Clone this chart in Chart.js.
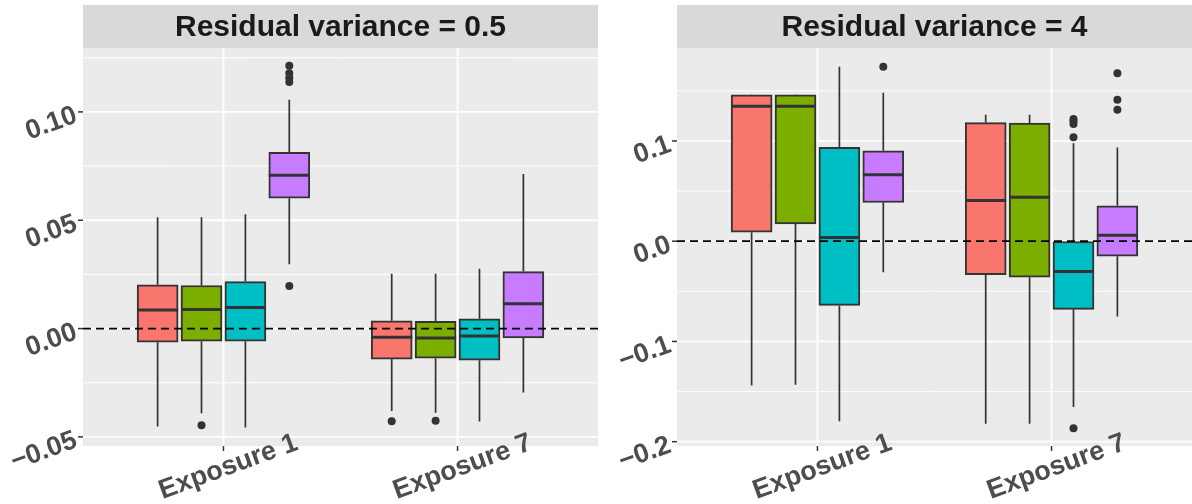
<!DOCTYPE html>
<html><head><meta charset="utf-8">
<script src="https://cdn.jsdelivr.net/npm/chart.js@4.4.1/dist/chart.umd.min.js"></script>
<style>
html,body{margin:0;padding:0;background:#fff;width:1192px;height:504px;overflow:hidden}
canvas{position:absolute;top:0}
#c1{left:0}
#c2{left:600px}
</style></head><body>
<canvas id="c1" width="600" height="504"></canvas>
<canvas id="c2" width="592" height="504"></canvas>
<script>
// ---------- data ----------
const categories = ['Exposure 1', 'Exposure 7'];
const seriesNames = ['Method 1', 'Method 2', 'Method 3', 'Method 4'];
const seriesColors = ['#F8766D', '#7CAE00', '#00BFC4', '#C77CFF'];

// Panel 1: Residual variance = 0.5   (arrays indexed [series][category])
const p1Title = 'Residual variance = 0.5';
const p1Lower  = [[-0.0452, -0.0380], [-0.0391, -0.0388], [-0.0457, -0.0429], [0.0297, -0.0295]];
const p1Q1     = [[-0.0063, -0.0141], [-0.0058, -0.0137], [-0.0058, -0.0146], [0.0602, -0.0043]];
const p1Median = [[0.0086, -0.0040], [0.0088, -0.0044], [0.0097, -0.0034], [0.0708, 0.0114]];
const p1Q3     = [[0.0202, 0.0036], [0.0199, 0.0034], [0.0217, 0.0045], [0.0813, 0.0263]];
const p1Upper  = [[0.0514, 0.0253], [0.0514, 0.0253], [0.0528, 0.0276], [0.1056, 0.0714]];
const p1Outliers = [[[], [-0.0428]], [[-0.0446], [-0.0425]], [[], []], [[0.1213, 0.1178, 0.1158, 0.1138, 0.0197], []]];
const p1Ticks = [-0.05, 0, 0.05, 0.10];
const p1TickLabels = ['\u22120.05', '0.00', '0.05', '0.10'];
const p1MinorTicks = [-0.025, 0.025, 0.075, 0.125];
const p1Range = [-0.0542, 0.1295];

// Panel 2: Residual variance = 4
const p2Title = 'Residual variance = 4';
const p2Lower  = [[-0.1439, -0.1820], [-0.1432, -0.1820], [-0.1795, -0.1655], [-0.0309, -0.0751]];
const p2Q1     = [[0.0090, -0.0335], [0.0173, -0.0359], [-0.0641, -0.0680], [0.0386, -0.0150]];
const p2Median = [[0.1346, 0.0406], [0.1346, 0.0439], [0.0037, -0.0302], [0.0662, 0.0060]];
const p2Q3     = [[0.1460, 0.1183], [0.1460, 0.1177], [0.0937, -0.0003], [0.0901, 0.0353]];
const p2Upper  = [[0.1463, 0.1260], [0.1463, 0.1260], [0.1739, 0.0977], [0.1480, 0.0934]];
const p2Outliers = [[[], []], [[], []], [[], [0.1220, 0.1196, 0.1170, 0.1037, -0.1867]], [[0.1739], [0.1675, 0.1410, 0.1310]]];
const p2Ticks = [-0.2, -0.1, 0, 0.1];
const p2TickLabels = ['\u22120.2', '\u22120.1', '0.0', '0.1'];
const p2MinorTicks = [-0.15, -0.05, 0.05, 0.15];
const p2Range = [-0.2043, 0.1927];

const refLine = 0;

// ---------- helpers ----------
const DODGE = 0.75;
const nSeries = seriesNames.length;
function xPos(catIdx, sIdx) {
  const step = DODGE / nSeries;
  return catIdx + 1 + (sIdx - (nSeries - 1) / 2) * step;
}

const FONT = '"Liberation Sans", Arial, Helvetica, sans-serif';

const boxPlugin = {
  id: 'ggbox',
  beforeDraw(chart) {
    const o = chart.options.plugins.ggbox;
    const ctx = chart.ctx, a = chart.chartArea;
    const ys = chart.scales.y, xs = chart.scales.x;
    ctx.save();
    ctx.fillStyle = '#EBEBEB';
    ctx.fillRect(a.left, a.top, a.right - a.left, a.bottom - a.top);
    ctx.fillStyle = '#D9D9D9';
    ctx.fillRect(a.left, 5, a.right - a.left, a.top - 5);
    ctx.fillStyle = '#1A1A1A';
    ctx.font = 'bold 30px ' + FONT;
    ctx.textAlign = 'center';
    ctx.textBaseline = 'middle';
    ctx.fillText(o.title, (a.left + a.right) / 2, (5 + a.top) / 2 + 1);
    ctx.strokeStyle = '#FFFFFF';
    ctx.lineWidth = 0.9;
    o.minor.forEach(v => {
      const y = ys.getPixelForValue(v);
      if (y < a.top || y > a.bottom) return;
      ctx.beginPath(); ctx.moveTo(a.left, y); ctx.lineTo(a.right, y); ctx.stroke();
    });
    ctx.lineWidth = 1.8;
    o.ticks.forEach(v => {
      const y = ys.getPixelForValue(v);
      ctx.beginPath(); ctx.moveTo(a.left, y); ctx.lineTo(a.right, y); ctx.stroke();
    });
    categories.forEach((c, i) => {
      const x = xs.getPixelForValue(i + 1);
      ctx.beginPath(); ctx.moveTo(x, a.top); ctx.lineTo(x, a.bottom); ctx.stroke();
    });
    ctx.restore();
  },
  beforeDatasetsDraw(chart) {
    const o = chart.options.plugins.ggbox;
    const ctx = chart.ctx, ys = chart.scales.y, xs = chart.scales.x;
    ctx.save();
    ctx.strokeStyle = '#333333';
    ctx.lineWidth = 1.7;
    for (let s = 0; s < nSeries; s++) {
      categories.forEach((c, i) => {
        const x = xs.getPixelForValue(xPos(i, s));
        ctx.beginPath();
        ctx.moveTo(x, ys.getPixelForValue(o.q3[s][i]));
        ctx.lineTo(x, ys.getPixelForValue(o.upper[s][i]));
        ctx.moveTo(x, ys.getPixelForValue(o.q1[s][i]));
        ctx.lineTo(x, ys.getPixelForValue(o.lower[s][i]));
        ctx.stroke();
      });
    }
    ctx.restore();
  },
  afterDatasetsDraw(chart) {
    const o = chart.options.plugins.ggbox;
    const ctx = chart.ctx, ys = chart.scales.y, a = chart.chartArea;
    ctx.save();
    ctx.strokeStyle = '#333333';
    ctx.lineWidth = 3;
    for (let s = 0; s < nSeries; s++) {
      const meta = chart.getDatasetMeta(s);
      meta.data.forEach((el, i) => {
        const p = el.getProps(['x', 'width'], true);
        const y = ys.getPixelForValue(o.median[s][i]);
        ctx.beginPath();
        ctx.moveTo(p.x - p.width / 2, y);
        ctx.lineTo(p.x + p.width / 2, y);
        ctx.stroke();
      });
    }
    ctx.strokeStyle = '#000000';
    ctx.lineWidth = 1.8;
    ctx.setLineDash([8, 5]);
    const y0 = ys.getPixelForValue(refLine);
    ctx.beginPath(); ctx.moveTo(a.left, y0); ctx.lineTo(a.right, y0); ctx.stroke();
    ctx.restore();
  },
  afterDraw(chart) {
    const o = chart.options.plugins.ggbox;
    const ctx = chart.ctx, ys = chart.scales.y, xs = chart.scales.x, a = chart.chartArea;
    ctx.save();
    ctx.strokeStyle = '#333333';
    ctx.lineWidth = 1.5;
    ctx.fillStyle = '#4D4D4D';
    ctx.font = 'bold 27px ' + FONT;
    o.ticks.forEach((v, k) => {
      const y = ys.getPixelForValue(v);
      ctx.beginPath(); ctx.moveTo(a.left - 5, y); ctx.lineTo(a.left, y); ctx.stroke();
      ctx.save();
      ctx.translate(a.left - 8, y);
      ctx.rotate(-20 * Math.PI / 180);
      ctx.textAlign = 'right';
      ctx.textBaseline = 'middle';
      ctx.fillText(o.tickLabels[k], 0, 3);
      ctx.restore();
    });
    categories.forEach((c, i) => {
      const x = xs.getPixelForValue(i + 1);
      ctx.beginPath(); ctx.moveTo(x, a.bottom); ctx.lineTo(x, a.bottom + 5); ctx.stroke();
      ctx.save();
      ctx.translate(x + 5, a.bottom + 21);
      ctx.rotate(-20 * Math.PI / 180);
      ctx.textAlign = 'center';
      ctx.textBaseline = 'middle';
      ctx.fillText(c, 0, 0);
      ctx.restore();
    });
    ctx.restore();
  }
};

function makePanel(canvasId, title, lower, q1, median, q3, upper, outliers, ticks, tickLabels, minor, range, padding) {
  const datasets = [];
  for (let s = 0; s < nSeries; s++) {
    datasets.push({
      type: 'bar',
      label: seriesNames[s],
      data: categories.map((c, i) => ({ x: xPos(i, s), y: [q1[s][i], q3[s][i]] })),
      backgroundColor: seriesColors[s],
      borderColor: '#333333',
      borderWidth: 2,
      borderSkipped: false,
      grouped: false,
      barThickness: 41,
      order: 2
    });
  }
  const outPts = [];
  for (let s = 0; s < nSeries; s++) {
    categories.forEach((c, i) => {
      outliers[s][i].forEach(v => outPts.push({ x: xPos(i, s), y: v }));
    });
  }
  datasets.push({
    type: 'scatter',
    label: 'outliers',
    data: outPts,
    backgroundColor: '#333333',
    borderWidth: 0,
    pointRadius: 4,
    order: 1
  });
  return new Chart(document.getElementById(canvasId), {
    type: 'bar',
    data: { datasets },
    plugins: [boxPlugin],
    options: {
      responsive: false,
      animation: false,
      devicePixelRatio: 1,
      layout: { padding, autoPadding: false },
      scales: {
        x: { type: 'linear', min: 0.4, max: 2.6, offset: false, display: false },
        y: { type: 'linear', min: range[0], max: range[1], display: false }
      },
      plugins: {
        legend: { display: false },
        tooltip: { enabled: false },
        ggbox: { title, lower, q1, median, q3, upper, ticks, tickLabels, minor }
      }
    }
  });
}

makePanel('c1', p1Title, p1Lower, p1Q1, p1Median, p1Q3, p1Upper, p1Outliers,
  p1Ticks, p1TickLabels, p1MinorTicks, p1Range, { left: 83, right: 2, top: 48, bottom: 58 });
makePanel('c2', p2Title, p2Lower, p2Q1, p2Median, p2Q3, p2Upper, p2Outliers,
  p2Ticks, p2TickLabels, p2MinorTicks, p2Range, { left: 77, right: 0, top: 48, bottom: 58 });
</script>
</body></html>
